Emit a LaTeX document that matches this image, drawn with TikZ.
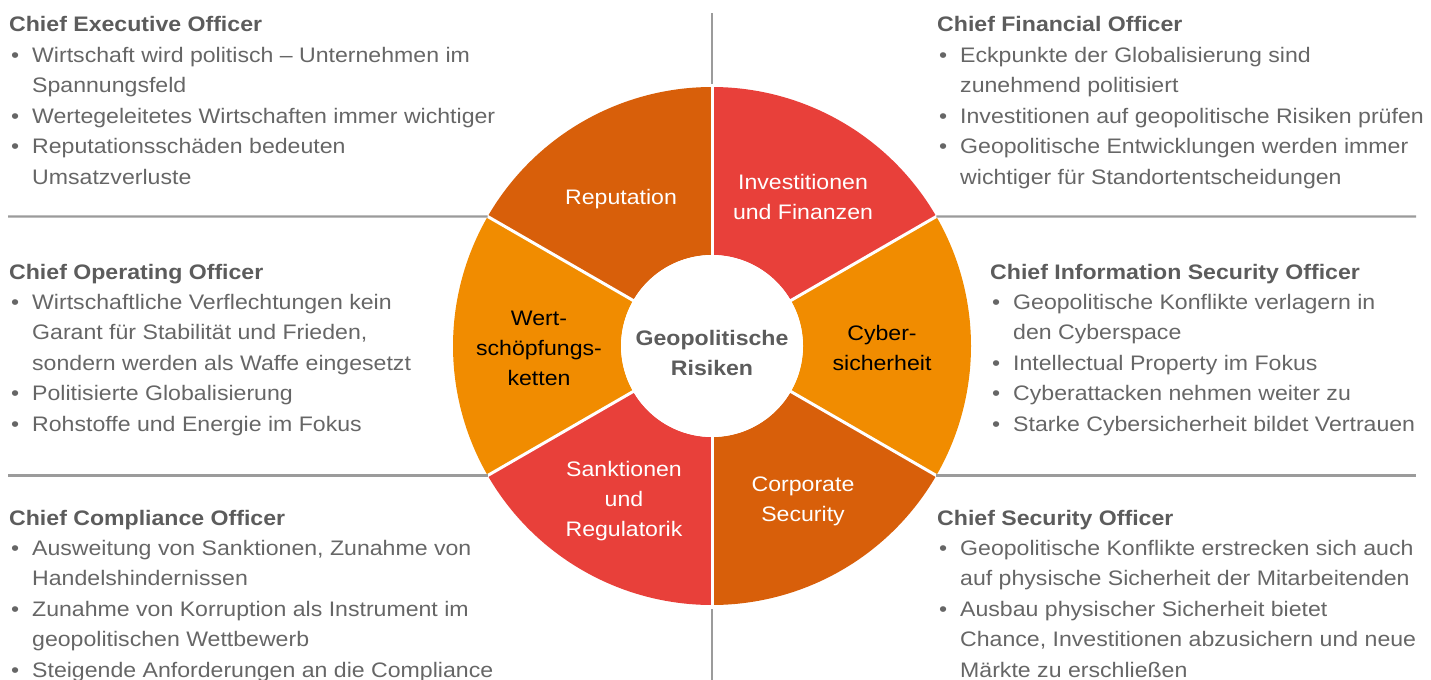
\documentclass[tikz,border=0pt]{standalone}
\usepackage{fontspec}
\setmainfont[FakeStretch=1.1]{Liberation Sans}
\usetikzlibrary{calc}

\definecolor{rustc}{HTML}{D85F0A}
\definecolor{redc}{HTML}{E8403A}
\definecolor{ambc}{HTML}{F18C00}
\definecolor{bodyc}{HTML}{666666}
\definecolor{headc}{HTML}{5C5C5C}
\definecolor{rulec}{HTML}{9B9B9B}

% one block: bold heading followed by bullet lines
\newcommand\officer[2]{\begin{tabular}[t]{@{}l@{}}{\bfseries\color{headc}#1}\\#2\end{tabular}}
\newcommand\itm{\makebox[23bp][l]{\hspace{2bp}•}}
\newcommand\cnt{\hspace*{23bp}}
% centred stack of lines for the wheel labels
\newcommand\stack[1]{\begin{tabular}[t]{@{}c@{}}#1\end{tabular}}

\tikzset{
  basefont/.style={font=\fontsize{21bp}{30.4bp}\selectfont, inner sep=0pt},
  block/.style={basefont, anchor=base west, text=bodyc},
  seglabel/.style={basefont, anchor=base},
  rulestyle/.style={draw=rulec, line width=2.4bp},
  sep/.style={draw=white, line width=3bp},
}

\begin{document}
\begin{tikzpicture}[x=1bp,y=1bp]
\useasboundingbox (0,0) rectangle (1431,-680);

% ---------- wheel ----------
\def\Ro{259}
\def\Ri{91}
\begin{scope}[shift={(712,-346)}]
  \foreach \a/\b/\c in {90/150/rustc, 30/90/redc, -30/30/ambc,
                        -90/-30/rustc, 210/270/redc, 150/210/ambc}{
    \fill[\c] (\a:\Ro) arc[start angle=\a, end angle=\b, radius=\Ro]
      -- (\b:\Ri) arc[start angle=\b, end angle=\a, radius=\Ri] -- cycle;
  }
  \foreach \a in {30,90,150,210,270,330}{
    \draw[sep] (\a:\Ri-2) -- (\a:\Ro+2);
    \coordinate (w\a) at (\a:\Ro);
  }
  \node[circle, fill=white, minimum size=2*\Ri bp, inner sep=0pt] (hub) at (0,0) {};
\end{scope}

% ---------- separating rules ----------
\draw[rulestyle] (w150) -- (8,-216.5);
\draw[rulestyle] (w30) -- (1416,-216.5);
\draw[rulestyle] (w210) -- (8,-475.5);
\draw[rulestyle] (w330) -- (1416,-475.5);
\draw[rulestyle] (712,-84) -- (712,-13);
\draw[rulestyle] (712,-609) -- (712,-682);

% ---------- wheel labels ----------
\node[seglabel, text=headc] (risk) at (712,-345) {\stack{\bfseries Geopolitische\\\bfseries Risiken}};
\node[seglabel, text=white] (rep) at (621,-204) {\stack{Reputation}};
\node[seglabel, text=white] (inv) at (803,-189) {\stack{Investitionen\\und Finanzen}};
\node[seglabel, text=black] (cyb) at (882,-340) {\stack{Cyber-\\sicherheit}};
\node[seglabel, text=white] (corp) at (803,-491) {\stack{Corporate\\Security}};
\node[seglabel, text=white] (sank) at (624,-476) {\stack{Sanktionen\\und\\Regulatorik}};
\node[seglabel, text=black] (wert) at (539,-325) {\stack{Wert-\\schöpfungs-\\ketten}};

% ---------- officer blocks ----------
\node[block] (ceo) at (9,-32) {\officer{Chief Executive Officer}{%
  \itm Wirtschaft wird politisch – Unternehmen im\\
  \cnt Spannungsfeld\\
  \itm Wertegeleitetes Wirtschaften immer wichtiger\\
  \itm Reputationsschäden bedeuten\\
  \cnt Umsatzverluste}};

\node[block] (cfo) at (937,-32) {\officer{Chief Financial Officer}{%
  \itm Eckpunkte der Globalisierung sind\\
  \cnt zunehmend politisiert\\
  \itm Investitionen auf geopolitische Risiken prüfen\\
  \itm Geopolitische Entwicklungen werden immer\\
  \cnt wichtiger für Standortentscheidungen}};

\node[block] (coo) at (9,-279) {\officer{Chief Operating Officer}{%
  \itm Wirtschaftliche Verflechtungen kein\\
  \cnt Garant für Stabilität und Frieden,\\
  \cnt sondern werden als Waffe eingesetzt\\
  \itm Politisierte Globalisierung\\
  \itm Rohstoffe und Energie im Fokus}};

\node[block] (ciso) at (990,-279) {\officer{Chief Information Security Officer}{%
  \itm Geopolitische Konflikte verlagern in\\
  \cnt den Cyberspace\\
  \itm Intellectual Property im Fokus\\
  \itm Cyberattacken nehmen weiter zu\\
  \itm Starke Cybersicherheit bildet Vertrauen}};

\node[block] (cco) at (9,-525) {\officer{Chief Compliance Officer}{%
  \itm Ausweitung von Sanktionen, Zunahme von\\
  \cnt Handelshindernissen\\
  \itm Zunahme von Korruption als Instrument im\\
  \cnt geopolitischen Wettbewerb\\
  \itm Steigende Anforderungen an die Compliance}};

\node[block] (cso) at (937,-525) {\officer{Chief Security Officer}{%
  \itm Geopolitische Konflikte erstrecken sich auch\\
  \cnt auf physische Sicherheit der Mitarbeitenden\\
  \itm Ausbau physischer Sicherheit bietet\\
  \cnt Chance, Investitionen abzusichern und neue\\
  \cnt Märkte zu erschließen}};
\end{tikzpicture}
\end{document}
